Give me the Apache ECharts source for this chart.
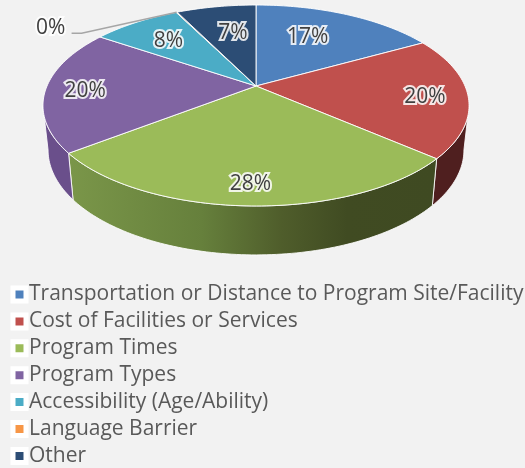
<!DOCTYPE html>
<html><head><meta charset="utf-8">
<style>html,body{margin:0;padding:0;background:#f2f2f2}#c{width:525px;height:468px}</style>
<script src="https://cdn.jsdelivr.net/npm/echarts@6/dist/echarts.min.js"></script>
</head><body><div id="c"></div>
<script>
var categories = ['Transportation or Distance to Program Site/Facility','Cost of Facilities or Services','Program Times','Program Types','Accessibility (Age/Ability)','Language Barrier','Other'];
var values = [16.9, 19.5, 28.1, 20, 8.1, 0.1, 7.3];
var colors = ['#4f81bd','#c0504d','#9bbb59','#8064a2','#4bacc6','#f79646','#2c4d75'];
// label nudges away from the radial anchor, px
var labelNudgeX = [-23, 0, 0, -3, 11, -140, 10];
var labelNudgeY = [10, 3, 6, 3, 7, 3, 12];

var chart = echarts.init(document.getElementById('c'));
var total = values.reduce(function(a,b){return a+b;},0);
var starts = []; (function(){var c=0; values.forEach(function(v){starts.push(c); c+=v;});})();
var toAngle = function(v){ return v/total*Math.PI*2; };

// perspective projection of the pie disc: upper face and lower face
var K = 0.194;
var UP = {cx:256, cy:86, a:209, b:96.7};
var LOW = {cx:256, cy:129.6, a:204, b:101};
function proj(t, r, lower){
  var F = lower ? LOW : UP;
  var u=Math.sin(t)*r, v=Math.cos(t)*r, w=1+K*v;
  return [F.cx+F.a*u/w, F.cy-F.b*v/w];
}
function arc(a,b,lower){
  var n=Math.max(2,Math.ceil((b-a)/0.02)), pts=[];
  for(var i=0;i<=n;i++) pts.push(proj(a+(b-a)*i/n,1,lower));
  return pts;
}
// the side wall is visible between the two silhouette angles
var SIL1 = Math.acos(-K), SIL2 = Math.PI*2-SIL1;
var wallFill = {
  0:'#27405e', 1:'#4f1f1f', 3:'#6a4f8b', 4:'#25566a', 5:'#7b4b23', 6:'#16263a'
};
wallFill[2] = new echarts.graphic.LinearGradient(70,0,435,0,[
  {offset:0,color:'#7a9649'},{offset:0.36,color:'#66803c'},{offset:0.58,color:'#4f5d2b'},
  {offset:0.76,color:'#404b22'},{offset:1,color:'#3f4a22'}],true);

function renderWall(params){
  var i=params.dataIndex;
  var a=Math.max(toAngle(starts[i]),SIL1), b=Math.min(toAngle(starts[i]+values[i]),SIL2);
  if(b<=a) return null;
  var top=arc(a,b,false), low=arc(a,b,true).reverse();
  return {type:'polygon', shape:{points:top.concat(low)},
    style:{fill:wallFill[i], stroke:'rgba(255,255,255,0.85)', lineWidth:1}};
}
function renderTop(i){
  return function(){
    var a=toAngle(starts[i]), b=toAngle(starts[i]+values[i]);
    return {type:'polygon', shape:{points:[[UP.cx,UP.cy]].concat(arc(a,b,false))},
      style:{fill:colors[i], stroke:'rgba(255,255,255,0.9)', lineWidth:1}};
  };
}
function renderLabels(params){
  var i=params.dataIndex, m=toAngle(starts[i]+values[i]/2);
  var p=proj(m,0.8,false), x=p[0]+labelNudgeX[i], y=p[1]+labelNudgeY[i];
  var kids=[], txt=Math.round(values[i])+'%', font='21px "Open Sans"';
  if(values[i]<1){
    var o=proj(m,1,false);
    kids.push({type:'polyline',shape:{points:[[x+21,y+5],[x+31,y+5],o]},
      style:{fill:null,stroke:'#a6a6a6',lineWidth:1.5}});
  }
  kids.push({type:'text',style:{text:txt,x:x,y:y,align:'center',verticalAlign:'middle',
    font:font,fill:'#ffffff',stroke:'rgba(255,255,255,0.85)',lineWidth:4,
    shadowColor:'#ffffff',shadowBlur:5}, z2:4});
  kids.push({type:'text',style:{text:txt,x:x,y:y,align:'center',verticalAlign:'middle',
    font:font,fill:'#404040'}, z2:5});
  return {type:'group',children:kids};
}

var series=[{type:'custom',name:'walls',coordinateSystem:'none',z:1,silent:true,
  data:values.map(function(v){return [v];}),renderItem:renderWall,animation:false}];
categories.forEach(function(c,i){
  series.push({type:'custom',name:c,coordinateSystem:'none',z:2,silent:true,
    itemStyle:{color:colors[i]},data:[[values[i]]],renderItem:renderTop(i),animation:false});
});
series.push({type:'custom',name:'labels',coordinateSystem:'none',z:3,silent:true,
  data:values.map(function(v){return [v];}),renderItem:renderLabels,animation:false});

chart.setOption({
  backgroundColor:'#f2f2f2',
  animation:false,
  legend:{
    data:categories, orient:'vertical', left:10.5, top:284, height:190, width:525, padding:0,
    itemWidth:13, itemHeight:13, itemGap:5.9, icon:'rect', selectedMode:false,
    itemStyle:{borderColor:'#ffffff',borderWidth:5},
    textStyle:{color:'#595959',fontFamily:'"Open Sans"',fontSize:21,padding:[0,0,0,-2]}
  },
  series:series
});
</script></body></html>
